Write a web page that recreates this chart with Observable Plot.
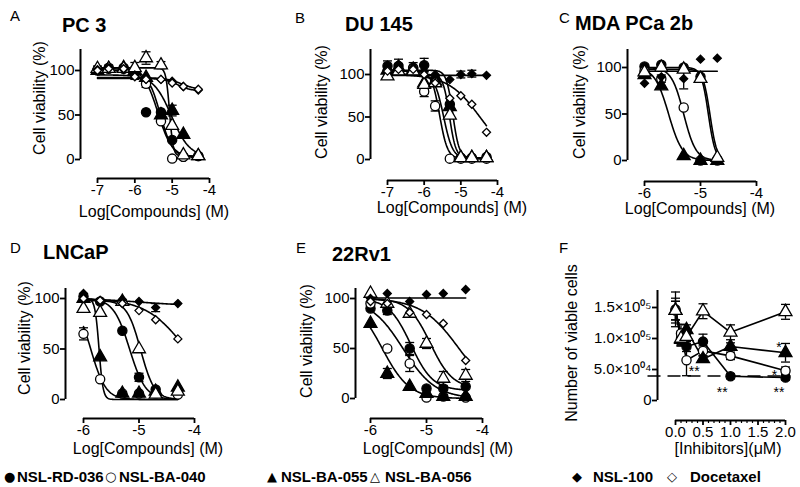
<!DOCTYPE html>
<html><head><meta charset="utf-8">
<script src="https://cdn.jsdelivr.net/npm/d3@7"></script>
<script src="https://cdn.jsdelivr.net/npm/@observablehq/plot@0.6"></script>
<style>
body{margin:0;background:#fff;}
#fig{position:relative;width:800px;height:487px;overflow:hidden;font-family:"Liberation Sans",Arial,Helvetica,sans-serif;color:#000;background:#fff;}
#fig svg{position:absolute;}
.t{position:absolute;white-space:nowrap;line-height:1;}
.title{font-weight:bold;font-size:20px;transform:translateY(-50%);}
.letter{font-size:15px;transform:translateY(-50%);}
.axt{font-size:16px;transform:translate(-50%,-50%);}
.ylab{font-size:16px;transform:translate(-50%,-50%) rotate(-90deg);}
.leg{font-weight:bold;font-size:15px;transform:translateY(-50%);}
.sym{font-family:"DejaVu Sans",sans-serif;font-size:13px;transform:translateY(-50%);}
</style></head><body><div id="fig"></div>
<script>
// ---------------- DATA ----------------
const seriesNames = ["NSL-RD-036","NSL-BA-040","NSL-BA-055","NSL-BA-056","NSL-100","Docetaxel"];
const seriesSymbols = ["circle","circle","triangle","triangle","diamond2","diamond2"];
const seriesFills = ["black","white","black","white","black","white"];
const seriesLegendGlyphs = ["●","○","▲","△","◆","◇"];

// Panel A: PC 3 (log M)
const dosesA = [-7,-6.7,-6.3,-6,-5.7,-5.3,-5,-4.7,-4.3];
const pc3_RD036 = [101,103,103,101,53,53,22,3,4];
const pc3_BA040 = [100,102,102,98,85,43,1,3,4];
const pc3_BA055 = [100,102,103,100,92,50,55,28,4];
const pc3_BA056 = [102,102,102,103,114,106,38,5,4];
const pc3_NSL100 = [101,103,101,95,90,90,88,82,78];
const pc3_Doce = [100,102,102,93,90,90,86,82,79];
const errA = [[0,3,8],[3,4,7],[3,5,4],[4,3,5],[1,4,4],[2,6,6],[0,0,4],[1,1,4]];
const fitA_top = [102,100,95,103,91,92];
const fitA_bottom = [3,2,3,4,77,78];
const fitA_logIC50 = [-5.38,-5.32,-5.02,-5.07,-4.85,-4.75];
const fitA_hill = [2.3,2.6,1.8,9,2.5,2];

// Panel B: DU 145
const dosesB = [-7,-6.7,-6.3,-6,-5.7,-5.3,-5,-4.7,-4.3];
const du_RD036 = [110,110,108,111,95,65,2,2,3];
const du_BA040 = [104,105,107,80,63,1,1,1,1];
const du_BA055 = [105,108,106,90,92,62,2,2,2];
const du_BA056 = [98,104,104,88,90,52,2,2,2];
const du_NSL100 = [106,112,108,104,100,94,100,101,99];
const du_Doce = [104,106,106,100,90,72,75,65,32];
const errB = [[0,0,6],[0,1,8],[0,2,6],[0,3,8],[4,7,4],[4,6,4],[1,3,6],[1,4,6]];
const fitB_top = [105,104,100,100,99,100];
const fitB_bottom = [2,1,2,1,99,0];
const fitB_logIC50 = [-5.22,-5.58,-5.31,-5.47,-5,-4.48];
const fitB_hill = [5,4,5,3.5,1,1];

// Panel C: MDA PCa 2b
const dosesC = [-6,-5.7,-5.3,-5,-4.7];
const mda_RD036 = [101,103,100,90,1];
const mda_BA040 = [96,88,57,0,0];
const mda_BA055 = [92,80,5,0,0];
const mda_BA056 = [95,100,98,88,3];
const mda_NSL100 = [83,90,88,109,110];
const errC = [[4,2,11],[1,1,4]];
const fitC_top = [100,100,100,98,96];
const fitC_bottom = [0,0,0,0,96];
const fitC_logIC50 = [-4.86,-5.3,-5.57,-4.83,-5];
const fitC_hill = [7,4,3.5,7,1];

// Panel D: LNCaP
const dosesD = [-6,-5.7,-5.3,-5,-4.7,-4.3];
const ln_RD036 = [102,97,68,22,10,8];
const ln_BA040 = [65,20,6,6,6,5];
const ln_BA055 = [100,42,6,6,8,12];
const ln_BA056 = [90,86,97,50,5,8];
const ln_NSL100 = [105,98,99,97,91,95];
const ln_Doce = [100,98,95,88,79,60];
const errD = [[1,0,6],[0,3,4],[4,4,4],[2,4,3]];
const fitD_top = [100,100,100,98,100,100];
const fitD_bottom = [0,0,0,0,93,0];
const fitD_logIC50 = [-5.17,-5.87,-5.72,-4.97,-5,-4.15];
const fitD_hill = [3,3.2,12,3.5,1,1.2];

// Panel E: 22Rv1
const dosesE = [-6,-5.7,-5.3,-5,-4.7,-4.3];
const rv_RD036 = [90,88,50,10,10,12];
const rv_BA040 = [95,50,35,1,2,1];
const rv_BA055 = [75,25,12,5,2,2];
const rv_BA056 = [105,95,85,55,20,23];
const rv_NSL100 = [100,105,97,104,105,109];
const rv_Doce = [97,95,86,84,75,38];
const errE = [[3,4,7],[3,5,6],[1,2,8],[0,2,6],[3,3,5],[2,1,5],[0,1,4]];
const fitE_top = [100,100,100,100,100.5,100];
const fitE_bottom = [8,0,0,10,100.5,0];
const fitE_logIC50 = [-5.28,-5.42,-5.79,-4.93,-5,-4.42];
const fitE_hill = [2.2,1.5,1.8,2.2,1,1.3];

// Panel F: number of viable cells vs [Inhibitors] (uM)
const dosesF = [0,0.1,0.2,0.5,1,2];
const f_RD036 = [147000,100000,87000,95000,39000,37000];
const f_BA040 = [145000,108000,65000,80000,72000,48000];
const f_BA055 = [145000,98000,114000,67000,87000,77000];
const f_BA056 = [145000,100000,103000,144000,110000,143000];
const f_RD036Err = [28000,12000,8000,12000,4000,4000];
const f_BA040Err = [20000,15000,25000,8000,6000,6000];
const f_BA055Err = [15000,10000,8000,5000,6000,15000];
const f_BA056Err = [15000,10000,12000,12000,12000,12000];
const fRefLineY = [39500];
const fRefLineX = [-0.5, 2.1];
const fStarX = [0.34, 0.85, 1.88, 1.88, 1.8];
const fStarY = [47000, 13000, 13000, 85000, 41000];
const fStarLabel = ["**","**","**","*","*"];

// Axis ticks
const logTicks7 = [-7,-6,-5,-4];
const logTicks7Labels = ["-7","-6","-5","-4"];
const logTicks6 = [-6,-5,-4];
const logTicks6Labels = ["-6","-5","-4"];
const pctTicks = [0,50,100];
const pctTickLabels = ["0","50","100"];
const fXTicks = [0,0.5,1,1.5,2];
const fXTickLabels = ["0.0","0.5","1.0","1.5","2.0"];
const fXMinor = [0.1,0.2,0.3,0.4,0.6,0.7,0.8,0.9,1.1,1.2,1.3,1.4,1.6,1.7,1.8,1.9];
const fYTicks = [0,50000,100000,150000];
const fYTickLabels = ["0","5.0×10⁰⁴","1.0×10⁰⁵","1.5×10⁰⁵"];

// ---------------- LAYOUT ----------------
const geomA = {box:[0,0,262,228], axL:80, x0:97, x1:209, xmin:-7, xmax:-4, y0:159, yRefPx:70, yRefVal:100, yTop:49, xAx:178};
const geomB = {box:[262,0,262,228], axL:370, x0:387, x1:497, xmin:-7, xmax:-4, y0:159, yRefPx:74, yRefVal:100, yTop:49, xAx:180};
const geomC = {box:[524,0,276,228], axL:627, x0:644, x1:756, xmin:-6, xmax:-4, y0:160, yRefPx:67, yRefVal:100, yTop:49, xAx:181};
const geomD = {box:[0,228,262,230], axL:65, x0:83, x1:194, xmin:-6, xmax:-4, y0:399, yRefPx:298, yRefVal:100, yTop:288, xAx:418};
const geomE = {box:[262,228,262,230], axL:355, x0:370, x1:482, xmin:-6, xmax:-4, y0:398, yRefPx:298, yRefVal:100, yTop:288, xAx:418};
const geomF = {box:[524,228,276,230], axL:657, x0:675, x1:785, xmin:0, xmax:2, y0:400, yRefPx:369, yRefVal:50000, yTop:290, xAx:420};

const fig = document.getElementById("fig");
const symR = [4.6,4.6,4.8,4.8,3.6,3.6];
const capSymbol = {draw(ctx, size){ const w = Math.sqrt(size/Math.PI); ctx.moveTo(-w,0); ctx.lineTo(w,0); }};

function curvePoints(doses, top, bottom, ic50, hill) {
  const pts = [];
  const a = doses[0], b = doses[doses.length-1];
  for (let s = 0; s < top.length; s++) {
    for (let i = 0; i <= 160; i++) {
      const x = a + (b - a) * i / 160;
      const y = bottom[s] + (top[s] - bottom[s]) / (1 + Math.pow(10, hill[s] * (x - ic50[s])));
      pts.push({s, x, y});
    }
  }
  return pts;
}

function errorMarks(errs) {
  const d = errs.map(o => ({x: o.x, y1: o.y - o.e, y2: o.y + o.e}));
  return [
    Plot.ruleX(d, {x: "x", y1: "y1", y2: "y2", stroke: "black", strokeWidth: 1.3}),
    Plot.dot(d, {x: "x", y: "y2", symbol: capSymbol, r: 4.5, fill: "none", stroke: "black", strokeWidth: 1.3}),
    Plot.dot(d, {x: "x", y: "y1", symbol: capSymbol, r: 4.5, fill: "none", stroke: "black", strokeWidth: 1.3})
  ];
}

function dotMarks(doses, vals) {
  const out = [];
  vals.forEach((v, s) => {
    out.push(Plot.dot(doses.map((x, i) => ({x, y: v[i]})), {
      x: "x", y: "y", symbol: seriesSymbols[s], fill: seriesFills[s],
      stroke: "black", strokeWidth: 1.3, r: symR[s]
    }));
  });
  return out;
}

function buildPanel(g, cfg) {
  const [bl, bt, bw, bh] = g.box;
  const xAt = px => g.xmin + (px - g.x0) / (g.x1 - g.x0) * (g.xmax - g.xmin);
  const yAt = py => (g.y0 - py) / (g.y0 - g.yRefPx) * g.yRefVal;
  const xDom = [xAt(g.axL), g.xmax];
  const yDom = [yAt(g.xAx), yAt(g.yTop)];
  const marks = [
    Plot.ruleX([xDom[0]], {y1: 0, y2: yDom[1], stroke: "black", strokeWidth: 2}),
    Plot.ruleY([yDom[0]], {x1: g.xmin, x2: g.xmax, stroke: "black", strokeWidth: 2}),
    Plot.axisY({ticks: cfg.yTicks, tickFormat: d => cfg.yTickLabels[cfg.yTicks.indexOf(d)], tickSize: 5, tickPadding: 1, strokeWidth: 1.8, fontSize: 15, label: null}),
    Plot.axisX({ticks: cfg.xTicks, tickFormat: d => cfg.xTickLabels[cfg.xTicks.indexOf(d)], tickSize: 5, tickPadding: 1, strokeWidth: 1.8, fontSize: 15, label: null})
  ];
  if (cfg.xMinor) marks.push(Plot.axisX({ticks: cfg.xMinor, tickFormat: () => "", tickSize: 3, strokeWidth: 1.2, label: null}));
  marks.push(...cfg.marks);
  const svg = Plot.plot({
    width: bw, height: bh,
    marginLeft: g.axL - bl, marginRight: bl + bw - g.x1,
    marginTop: g.yTop - bt, marginBottom: bt + bh - g.xAx,
    x: {domain: xDom, label: null},
    y: {domain: yDom, label: null},
    style: {background: "none", overflow: "visible", fontFamily: "'Liberation Sans', Arial, sans-serif", fontSize: "15px", color: "black"},
    marks
  });
  svg.style.left = bl + "px";
  svg.style.top = bt + "px";
  fig.appendChild(svg);
}

function doseResponsePanel(g, doses, vals, errs, top, bottom, ic50, hill, xTicks, xTickLabels) {
  const curves = curvePoints(doses, top, bottom, ic50, hill);
  const eb = errs.map(([s, i, e]) => ({x: doses[i], y: vals[s][i], e}));
  buildPanel(g, {
    yTicks: pctTicks, yTickLabels: pctTickLabels, xTicks, xTickLabels,
    marks: [
      Plot.line(curves, {x: "x", y: "y", z: "s", stroke: "black", strokeWidth: 1.6}),
      ...errorMarks(eb),
      ...dotMarks(doses, vals)
    ]
  });
}

doseResponsePanel(geomA, dosesA, [pc3_RD036,pc3_BA040,pc3_BA055,pc3_BA056,pc3_NSL100,pc3_Doce], errA, fitA_top, fitA_bottom, fitA_logIC50, fitA_hill, logTicks7, logTicks7Labels);
doseResponsePanel(geomB, dosesB, [du_RD036,du_BA040,du_BA055,du_BA056,du_NSL100,du_Doce], errB, fitB_top, fitB_bottom, fitB_logIC50, fitB_hill, logTicks7, logTicks7Labels);
doseResponsePanel(geomC, dosesC, [mda_RD036,mda_BA040,mda_BA055,mda_BA056,mda_NSL100], errC, fitC_top, fitC_bottom, fitC_logIC50, fitC_hill, logTicks6, logTicks6Labels);
doseResponsePanel(geomD, dosesD, [ln_RD036,ln_BA040,ln_BA055,ln_BA056,ln_NSL100,ln_Doce], errD, fitD_top, fitD_bottom, fitD_logIC50, fitD_hill, logTicks6, logTicks6Labels);
doseResponsePanel(geomE, dosesE, [rv_RD036,rv_BA040,rv_BA055,rv_BA056,rv_NSL100,rv_Doce], errE, fitE_top, fitE_bottom, fitE_logIC50, fitE_hill, logTicks6, logTicks6Labels);

// Panel F
(function(){
  const valsF = [f_RD036, f_BA040, f_BA055, f_BA056];
  const errsF = [f_RD036Err, f_BA040Err, f_BA055Err, f_BA056Err];
  const linePts = [];
  valsF.forEach((v, s) => dosesF.forEach((x, i) => linePts.push({s, x, y: v[i]})));
  const eb = [];
  valsF.forEach((v, s) => dosesF.forEach((x, i) => eb.push({x, y: v[i], e: errsF[s][i]})));
  const stars = fStarLabel.map((t, i) => ({x: fStarX[i], y: fStarY[i], t}));
  buildPanel(geomF, {
    yTicks: fYTicks, yTickLabels: fYTickLabels, xTicks: fXTicks, xTickLabels: fXTickLabels, xMinor: fXMinor,
    marks: [
      Plot.ruleY(fRefLineY, {x1: fRefLineX[0], x2: fRefLineX[1], stroke: "black", strokeWidth: 1.6, strokeDasharray: "13,7"}),
      Plot.line(linePts, {x: "x", y: "y", z: "s", stroke: "black", strokeWidth: 1.6}),
      ...errorMarks(eb),
      ...dotMarks(dosesF, valsF),
      Plot.text(stars, {x: "x", y: "y", text: "t", fontSize: 14, fill: "black"})
    ]
  });
})();

// ---------------- TEXT ----------------
function addText(cls, x, y, t) {
  const d = document.createElement("div");
  d.className = "t " + cls;
  d.style.left = x + "px"; d.style.top = y + "px";
  d.textContent = t;
  fig.appendChild(d);
}
const panelLetters = [["A",10,15],["B",295,17],["C",559,17],["D",10,247],["E",296,247],["F",559,247]];
const panelTitles = [["PC 3",62,25],["DU 145",345,24],["MDA PCa 2b",575,23],["LNCaP",43,252],["22Rv1",332,254]];
const xTitles = [["Log[Compounds] (M)",154,212],["Log[Compounds] (M)",452,208],["Log[Compounds] (M)",700,209],["Log[Compounds] (M)",148,449],["Log[Compounds] (M)",438,449],["[Inhibitors](μM)",728,449]];
const yTitles = [["Cell viability (%)",40,98],["Cell viability (%)",322,102],["Cell viability (%)",580,102],["Cell viability (%)",25,338],["Cell viability (%)",307,341],["Number of viable cells",572,343]];
panelLetters.forEach(([t,x,y]) => addText("letter", x, y, t));
panelTitles.forEach(([t,x,y]) => addText("title", x, y, t));
xTitles.forEach(([t,x,y]) => addText("axt", x, y, t));
yTitles.forEach(([t,x,y]) => addText("ylab", x, y, t));

// Legend
const legendGlyphX = [4,105,267,370,572,667];
const legendTextX = [17,119,281,385,593,690];
seriesNames.forEach((n, i) => {
  addText("sym", legendGlyphX[i], 476, seriesLegendGlyphs[i]);
  addText("leg", legendTextX[i], 476, n);
});
</script></body></html>
